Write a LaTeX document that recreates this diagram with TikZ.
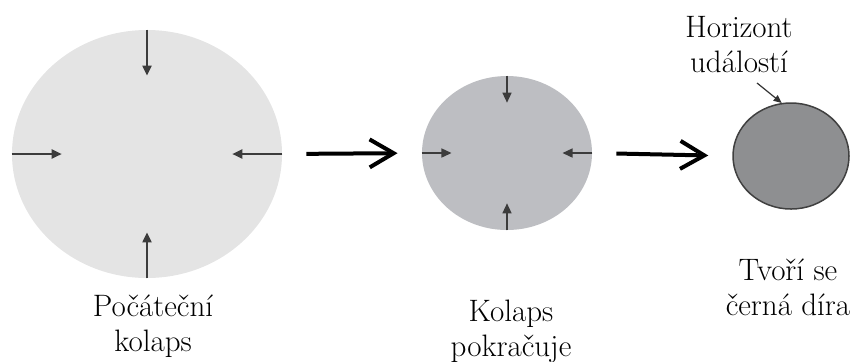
\documentclass[tikz,border=0pt]{standalone}
\usepackage{fontspec}
\usetikzlibrary{shapes.geometric,arrows.meta,calc}
\definecolor{cloudlight}{HTML}{E4E4E4}
\definecolor{cloudmid}{HTML}{BDBEC2}
\definecolor{holegray}{HTML}{8E8F91}
\definecolor{pushgray}{HTML}{3C3C3C}
\begin{document}
\begin{tikzpicture}[x=0.5pt, y=-0.5pt, font=\fontsize{15.5}{17.5}\selectfont,
    cloud/.style={ellipse, inner sep=0pt},
    push/.style={pushgray, line width=1pt, -{Triangle[length=5pt,width=4.5pt]}},
    pushsmall/.style={pushgray, line width=0.7pt, -{Triangle[length=5pt,width=4.5pt]}},
    stage/.style={black, line width=2pt, -{Straight Barb[length=12pt,width=14pt]}, shorten <=12pt, shorten >=12pt},
    caption/.style={align=center, inner sep=0pt, anchor=base}]
    \useasboundingbox (0,0) rectangle (861,361);
    % the three stages
    \node[cloud, fill=cloudlight, minimum width=135pt, minimum height=124pt] (start) at (147,154) {};
    \node[cloud, fill=cloudmid, minimum width=85pt, minimum height=77pt] (middle) at (507,153) {};
    \node[cloud, fill=holegray, draw=black!75, line width=0.75pt, minimum width=58pt, minimum height=53pt] (hole) at (791,156) {};
    \foreach \side in {north,south,east,west}{
        \draw[push] (start.\side) -- ($(start.\side)!0.37!(start.center)$);
        \draw[pushsmall] (middle.\side) -- ($(middle.\side)!0.35!(middle.center)$);
    }
    \draw[stage] (start.east) -- (middle.west);
    \draw[stage] (middle.east) -- (hole.west);
    % captions (base = last line)
    \node[caption] (horizon) at (739,72) {Horizont\\událostí};
    \coordinate (horizontail) at (757,83);
    \draw[black!80, line width=0.6pt, -{Triangle[length=4pt,width=3.5pt]}] (horizontail) -- (hole.100);
    \node[caption] (startcap) at (153,351) {Počáteční\\kolaps};
    \node[caption] (middlecap) at (511,356) {Kolaps\\pokračuje};
    \node[caption] (holecap) at (788,315) {Tvoří se\\černá díra};
\end{tikzpicture}
\end{document}
